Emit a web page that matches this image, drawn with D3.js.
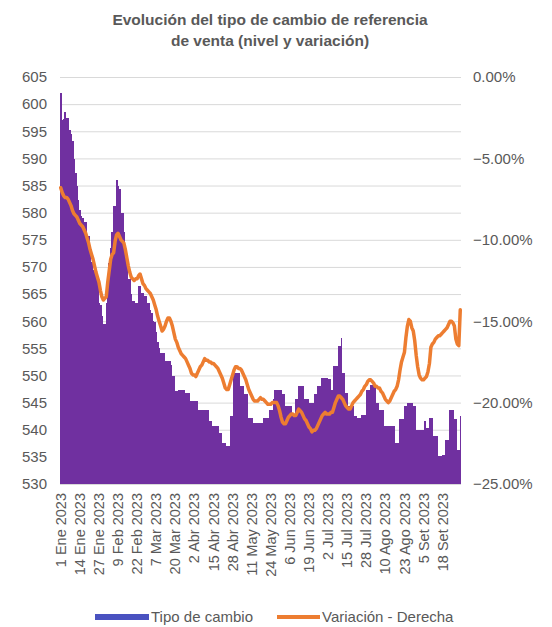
<!DOCTYPE html>
<html lang="es">
<head>
    <meta charset="UTF-8">
    <title>Tipo de cambio</title>
    <style>
        body { margin: 0; background: #fff; }
        text { font-family: "Liberation Sans", Arial, sans-serif; }
    </style>
</head>
<body>
    <div id="chart"></div>
    <script src="https://d3js.org/d3.v7.min.js"></script>
    <script>
        // dias: 1 ene 2023 .. 30 set 2023
        const days = d3.timeDay.range(new Date(2023, 0, 1), new Date(2023, 9, 1));

        const tipoCambio = [
            602, 597, 597.2, 598.5, 597.5, 597.5, 595.3, 594.5, 593.2, 589.8,
            587.4, 584.9, 582.4, 580.5, 579.4, 579, 578.2, 578.2, 575.7, 575.7,
            572.6, 571, 569.5, 569, 568.3, 568.3, 563.4, 563, 560.9, 559.4,
            559.4, 563.4, 566, 570.8, 573.5, 576.4, 581.2, 581.2, 586.1, 585,
            584.3, 580, 580, 576.4, 572, 572, 567.7, 567.7, 565, 563.7,
            563.7, 563.4, 563.4, 566.4, 566.4, 565.2, 565.2, 564.6, 564.6, 563.4,
            563.4, 562, 561.6, 560, 559.8, 558, 556.1, 555, 554.2, 554.2,
            554.2, 552.6, 552.6, 552.6, 552.6, 552, 549.9, 549.9, 547.1, 547.1,
            547.4, 547.4, 547.4, 547.4, 547.4, 546.8, 546.8, 546.8, 545.3, 545.3,
            545.3, 545.3, 545.3, 545.3, 543.7, 543.7, 543.7, 543.7, 543.7, 543.7,
            543.7, 541.6, 541.6, 540.6, 540.6, 540.6, 540.6, 540.6, 539.4, 539.4,
            537.6, 537.6, 537.6, 537, 537, 537, 542.5, 542.5, 550.5, 550.5,
            550.5, 550.5, 548, 548, 548, 546.5, 546.5, 546.5, 542.2, 542.2,
            542.2, 541.3, 541.3, 541.3, 541.3, 541.3, 541.3, 541.3, 542.2, 542.2,
            542.2, 542.2, 543.7, 543.7, 543.7, 545.6, 547.4, 547.4, 547.4, 547.4,
            547.4, 546.5, 546.5, 544.4, 544.4, 544.4, 544.4, 544.4, 542.5, 542.5,
            545.6, 545.6, 548, 548, 548, 548, 545.6, 545.6, 545.6, 545,
            545, 545, 545, 546.5, 546.5, 548, 548, 548, 549.6, 549.6,
            549.6, 549.6, 549.3, 549.3, 547.4, 547.4, 551.7, 551.7, 551.7, 555.4,
            555.4, 556.9, 550.5, 550.5, 546.8, 546.8, 544.4, 544.4, 544.4, 544.4,
            542.5, 542.5, 542.2, 542.2, 542.2, 542.8, 542.8, 542.8, 547.4, 547.4,
            547.4, 548.3, 548.3, 548.3, 548.3, 545, 545, 543.7, 543.7, 543.7,
            540.7, 540.7, 540.7, 540.7, 540.7, 540.7, 540.7, 540.7, 537.6, 537.6,
            537.6, 541.9, 541.9, 541.9, 544.4, 544.4, 545, 545, 545, 545,
            544.4, 544.4, 540, 540, 540, 540, 540, 540, 541.6, 540.4,
            540.4, 542.2, 542.2, 542.2, 538.8, 538.8, 538.8, 535.1, 535.1, 535.1,
            535.4, 535.4, 538.2, 538.2, 538.2, 543.7, 543.7, 543.7, 541.9, 541.9,
            536.3, 536.3, 542.5
        ];

        // variacion en %
        const variacion = [
            -6.8, -7.1, -7.3, -7.4, -7.4, -7.5, -7.7, -7.9, -8.2, -8.4,
            -8.5, -8.6, -8.8, -9.0, -9.1, -9.2, -9.4, -9.6, -9.9, -10.2,
            -10.6, -10.9, -11.2, -11.6, -12.0, -12.3, -12.6, -13.1, -13.5, -13.7,
            -13.6, -13.5, -12.6, -11.9, -11.2, -10.9, -10.8, -10.1, -9.7, -9.6,
            -9.8, -10.0, -10.1, -10.2, -10.6, -11.1, -11.6, -12.0, -12.3, -12.4,
            -12.5, -12.4, -12.4, -12.2, -12.1, -12.4, -12.7, -12.8, -13.0, -13.1,
            -13.2, -13.3, -13.5, -13.7, -14.0, -14.3, -14.7, -15.0, -15.3, -15.6,
            -15.5, -15.3, -15.0, -14.8, -14.8, -15.0, -15.3, -15.7, -16.1, -16.3,
            -16.6, -16.8, -17.0, -17.1, -17.2, -17.3, -17.5, -17.7, -17.9, -18.2,
            -18.3, -18.3, -18.4, -18.2, -18.0, -17.8, -17.7, -17.5, -17.3, -17.4,
            -17.4, -17.5, -17.5, -17.6, -17.6, -17.7, -17.8, -17.9, -18.1, -18.3,
            -18.5, -18.8, -19.1, -19.2, -19.2, -18.9, -18.6, -18.3, -18.0, -17.8,
            -17.8, -17.9, -17.9, -18.0, -18.2, -18.4, -18.6, -18.9, -19.2, -19.4,
            -19.6, -19.8, -19.9, -19.9, -19.9, -19.8, -19.7, -19.8, -19.8, -19.9,
            -20.0, -20.1, -20.1, -20.1, -20.0, -20.0, -20.0, -20.0, -20.2, -20.5,
            -20.9, -21.2, -21.3, -21.3, -21.1, -20.9, -20.8, -20.7, -20.7, -20.8,
            -20.8, -20.6, -20.4, -20.5, -20.6, -20.8, -21.0, -21.1, -21.3, -21.5,
            -21.6, -21.8, -21.7, -21.7, -21.6, -21.4, -21.2, -21.0, -20.8, -20.7,
            -20.6, -20.7, -20.7, -20.7, -20.6, -20.6, -20.3, -20.0, -19.8, -19.6,
            -19.6, -19.7, -19.8, -20.0, -20.2, -20.3, -20.4, -20.4, -20.2, -20.0,
            -19.9, -19.8, -19.7, -19.6, -19.5, -19.3, -19.2, -19.0, -18.9, -18.7,
            -18.6, -18.6, -18.7, -18.8, -19.0, -19.0, -19.1, -19.1, -19.3, -19.4,
            -19.6, -19.8, -19.9, -20.0, -19.9, -19.7, -19.5, -19.3, -19.2, -19.0,
            -18.6, -18.0, -17.5, -17.2, -16.9, -16.0, -15.3, -14.9, -15.0, -15.4,
            -15.6, -16.2, -17.1, -17.8, -18.3, -18.5, -18.6, -18.6, -18.5, -18.4,
            -18.1, -17.6, -16.6, -16.4, -16.3, -16.1, -16.0, -15.9, -15.9, -15.8,
            -15.7, -15.6, -15.5, -15.4, -15.2, -15.0, -15.0, -15.1, -15.3, -16.1,
            -16.4, -16.5, -14.3
        ];

        const tickLabels = [
            "1 Ene 2023", "14 Ene 2023", "27 Ene 2023", "9 Feb 2023", "22 Feb 2023",
            "7 Mar 2023", "20 Mar 2023", "2 Abr 2023", "15 Abr 2023", "28 Abr 2023",
            "11 May 2023", "24 May 2023", "6 Jun 2023", "19 Jun 2023", "2 Jul 2023",
            "15 Jul 2023", "28 Jul 2023", "10 Ago 2023", "23 Ago 2023", "5 Set 2023",
            "18 Set 2023"
        ];
        const leftTicks = d3.range(530, 606, 5);
        const rightTicks = [0, -5, -10, -15, -20, -25];

        const [width, height] = [552, 627];
        const plot = {left: 60, right: 461, top: 77, bottom: 484};
        const grey = "#595959";

        var svg = d3.select("#chart").append("svg")
            .attr("width", width)
            .attr("height", height);

        var x = d3.scaleBand()
            .domain(days)
            .range([plot.left, plot.right])
            .padding(0);
        var y = d3.scaleLinear().domain([530, 605]).range([plot.bottom, plot.top]);
        var yR = d3.scaleLinear().domain([-25, 0]).range([plot.bottom, plot.top]);

        // titulo
        svg.append("text")
            .attr("x", 270).attr("y", 25)
            .attr("text-anchor", "middle")
            .style("font-size", "15.5px").style("font-weight", "bold")
            .attr("fill", grey)
            .selectAll("tspan")
            .data(["Evolución del tipo de cambio de referencia", "de venta (nivel y variación)"])
            .join("tspan")
            .attr("x", 270)
            .attr("dy", (d, i) => i ? 21 : 0)
            .text(d => d);

        // grid
        svg.append("g")
            .selectAll("line")
            .data(leftTicks)
            .join("line")
            .attr("x1", plot.left).attr("x2", plot.right)
            .attr("y1", d => y(d) + 0.5).attr("y2", d => y(d) + 0.5)
            .attr("stroke", "#d9d9d9").attr("stroke-width", 1);

        // barras
        svg.append("g")
            .selectAll("rect")
            .data(tipoCambio)
            .join("rect")
            .attr("x", (d, i) => x(days[i]))
            .attr("width", x.bandwidth() + 0.4)
            .attr("y", d => y(d))
            .attr("height", d => y(530) - y(d))
            .attr("fill", "#7030a0")
            .attr("shape-rendering", "crispEdges");

        // linea variacion
        var line = d3.line()
            .x((d, i) => x(days[i]) + x.bandwidth() / 2)
            .y(d => yR(d));
        svg.append("path")
            .datum(variacion)
            .attr("d", line)
            .attr("fill", "none")
            .attr("stroke", "#ed7d31")
            .attr("stroke-width", 3.5)
            .attr("stroke-linejoin", "round")
            .attr("stroke-linecap", "round");

        // ejes
        var gL = svg.append("g")
            .attr("transform", `translate(${plot.left},0)`)
            .call(d3.axisLeft(y).tickValues(leftTicks).tickSize(0).tickPadding(13));
        var gR = svg.append("g")
            .attr("transform", `translate(${plot.right},0)`)
            .call(d3.axisRight(yR).tickValues(rightTicks).tickSize(0).tickPadding(12)
                .tickFormat(d => d3.format(".2f")(d) + "%"));
        var gB = svg.append("g")
            .attr("transform", `translate(0,${plot.bottom})`)
            .call(d3.axisBottom(x)
                .tickValues(days.filter((d, i) => i % 13 === 0))
                .tickFormat((d, i) => tickLabels[i])
                .tickSize(0));
        gB.selectAll("text")
            .attr("transform", "rotate(-90)")
            .attr("x", -9).attr("y", 0).attr("dy", "0.35em")
            .style("text-anchor", "end");

        [gL, gR, gB].forEach(g => {
            g.select(".domain").remove();
            g.selectAll("text")
                .attr("fill", grey)
                .style("font-size", "15px")
                .style("font-family", '"Liberation Sans", Arial, sans-serif');
        });
        gB.selectAll("text").style("font-size", "14.5px");

        // leyenda
        var leg = svg.append("g").style("font-size", "15px");
        leg.append("rect")
            .attr("x", 95).attr("y", 614).attr("width", 54).attr("height", 6)
            .attr("fill", "#4a52c0");
        leg.append("text")
            .attr("x", 151).attr("y", 622)
            .attr("fill", grey).text("Tipo de cambio");
        leg.append("line")
            .attr("x1", 277).attr("x2", 320).attr("y1", 617).attr("y2", 617)
            .attr("stroke", "#ed7d31").attr("stroke-width", 4);
        leg.append("text")
            .attr("x", 322).attr("y", 622)
            .attr("fill", grey).text("Variación - Derecha");
    </script>
</body>
</html>
